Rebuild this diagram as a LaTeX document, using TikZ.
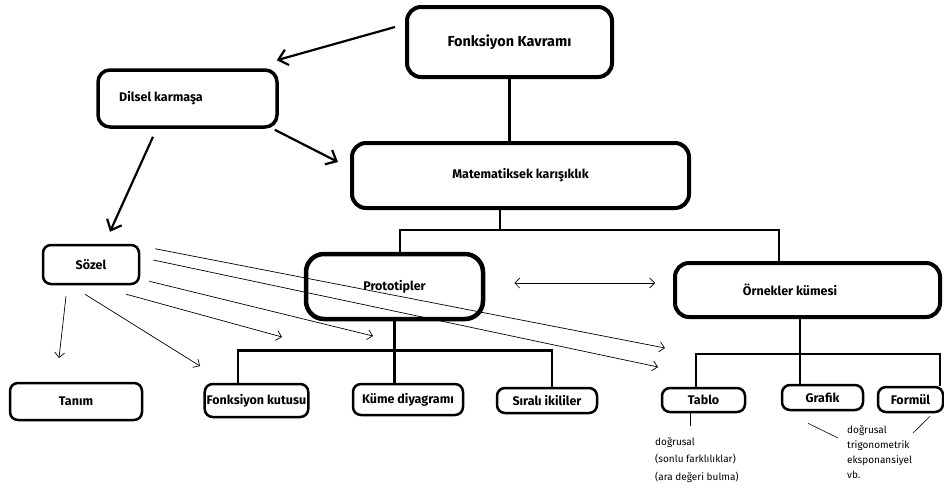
\documentclass[tikz,border=0pt]{standalone}
\usepackage{fontspec}
\setmainfont{Fira Sans}
\usepackage{tikz}
\usetikzlibrary{arrows.meta,positioning}

\begin{document}
\begin{tikzpicture}[x=1pt, y=-1pt,
    kutu/.style={draw, rounded corners=8pt, line width=2.5pt, inner sep=2pt,
        font=\bfseries\fontsize{12.5}{14}\selectfont},
    kalin/.style={kutu, line width=4pt, rounded corners=14pt},
    agac/.style={line width=2.5pt},
    okkalin/.style={line width=2.2pt, -{Straight Barb[length=9pt,width=16pt,line width=2.2pt]}},
    okince/.style={line width=0.7pt, -{Straight Barb[length=5pt,width=10pt]}},
    notyazi/.style={align=left, inner sep=0pt, anchor=north west}]

\useasboundingbox (0,0) rectangle (944,488);

\node[kalin, minimum width=205pt, minimum height=70pt,
    font=\bfseries\fontsize{14.5}{16}\selectfont] (kavram) at (509.5,42) {Fonksiyon Kavramı};
\node[kutu, line width=3.5pt, rounded corners=12pt, minimum width=179pt, minimum height=57pt]
    (dilsel) at (187.5,98.5) {Dilsel karmaşa\hspace*{53pt}};
\node[kalin, minimum width=337pt, minimum height=65pt] (matem) at (520.5,175.5) {Matematiksek karışıklık};
\node[kutu, minimum width=96pt, minimum height=39pt] (sozel) at (91,264.5) {Sözel};
\node[kalin, line width=4.5pt, rounded corners=18pt, minimum width=177pt, minimum height=65pt] (proto) at (394.5,286.5) {Prototipler};
\node[kalin, minimum width=265pt, minimum height=54pt] (ornek) at (807.5,290) {\hspace*{-35pt}Örnekler kümesi};

\node[kutu, minimum width=132pt, minimum height=37pt] (tanim) at (76,401.5) {Tanım};
\node[kutu, minimum width=103pt, minimum height=33pt] (fkutu) at (256.5,400.5) {Fonksiyon kutusu};
\node[kutu, minimum width=110pt, minimum height=31pt] (kume) at (408,399.5) {Küme diyagramı};
\node[kutu, minimum width=100pt, minimum height=25pt] (sirali) at (547,400.5) {Sıralı ikililer};
\node[kutu, minimum width=83pt, minimum height=24pt] (tablo) at (703.5,400) {Tablo};
\node[kutu, minimum width=81pt, minimum height=25pt] (grafik) at (822.5,397.5) {Grafik};
\node[kutu, minimum width=65pt, minimum height=25pt] (formul) at (910.5,399.5) {Formül};

\coordinate (t1) at (500,230);
\draw[agac] (kavram.south) -- (kavram.south |- matem.north);
\draw[agac] (matem.south -| t1) -- (t1);
\draw[agac] ([xshift=5.5pt]proto.north) |- (t1) -| ([xshift=-28.5pt]ornek.north);

\draw[agac] (proto.south) -- ++(0,29) coordinate (t2);
\draw[agac] ([xshift=-18.5pt]fkutu.north) |- (t2) -| ([xshift=5pt]sirali.north);
\draw[agac] (t2) -- (t2 |- kume.north);

\draw[agac] ([xshift=-7.5pt]ornek.south) -- ++(0,35) coordinate (t3);
\draw[agac] ([xshift=-7.5pt]tablo.north) |- (t3) -| ([xshift=29.5pt]formul.north);
\draw[agac] (t3) -- (t3 |- grafik.north);

\draw[okkalin] ([shift={(-10,-15)}]kavram.west) -- ([shift={(-2,-8)}]dilsel.north east);
\draw[okkalin] ([shift={(-4,1)}]dilsel.south east) -- ([shift={(-12,-13.5)}]matem.west);
\draw[okkalin] ([shift={(-34.5,8)}]dilsel.south) -- ([shift={(19,-12)}]sozel.north);

\coordinate (uc1) at (59,358);
\coordinate (uc2) at (200,366);
\coordinate (uc3) at (282,337);
\coordinate (uc4) at (373,336);
\coordinate (uc5) at (658,367);
\coordinate (uc6) at (665,348);
\draw[okince] ([shift={(-25,11)}]sozel.south) -- (uc1);
\draw[okince] ([shift={(-6,9)}]sozel.south) -- (uc2);
\draw[okince] ([shift={(-14,9)}]sozel.south east) -- (uc3);
\draw[okince] ([shift={(9,-4)}]sozel.south east) -- (uc4);
\draw[okince] ([shift={(13,-4.5)}]sozel.east) -- (uc5);
\draw[okince] ([shift={(15,5)}]sozel.north east) -- (uc6);
\draw[okince, {Straight Barb[length=5pt,width=10pt]}-{Straight Barb[length=5pt,width=10pt]}]
    ([shift={(29,-3.5)}]proto.east) -- ([shift={(-18,-7)}]ornek.west);

\draw[line width=0.6pt] ([xshift=-13.5pt]tablo.south) -- ++(0,13) coordinate (n1);
\node[notyazi, font=\fontsize{10}{17.5}\selectfont] (tablonot) at (655,437)
    {doğrusal\\(sonlu farklılıklar)\\(ara değeri bulma)};
\node[notyazi, font=\fontsize{10}{15}\selectfont] (grafiknot) at (847,425)
    {doğrusal\\trigonometrik\\eksponansiyel\\vb.};
\draw[line width=0.6pt] ([shift={(-14.5,12)}]grafik.south) -- ([shift={(-9,13)}]grafiknot.north west);
\draw[line width=0.6pt] ([shift={(19.5,3)}]formul.south) -- ([shift={(66,8)}]grafiknot.north west);
\end{tikzpicture}
\end{document}
